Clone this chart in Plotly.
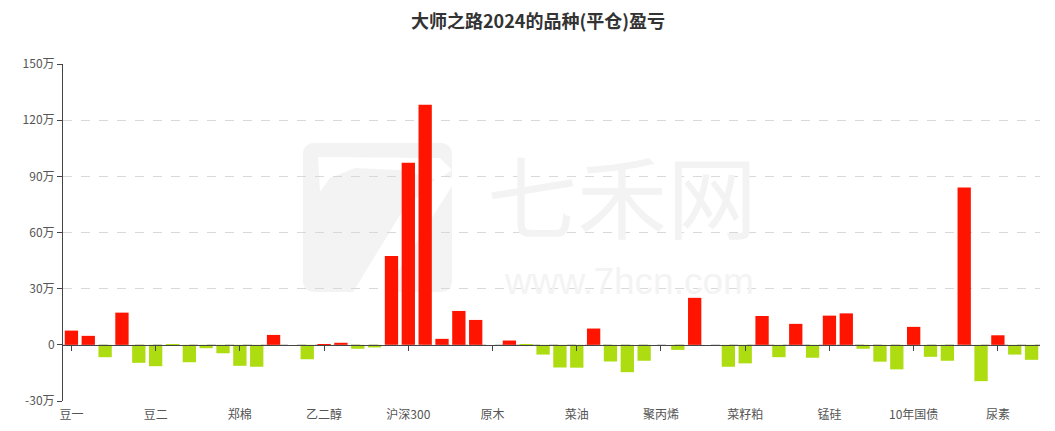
import plotly.graph_objects as go

# Data (values in 万元), 58 categories; only every 5th category label is shown in the reference
tick_labels = ["豆一", "豆二", "郑棉", "乙二醇", "沪深300", "原木", "菜油", "聚丙烯", "菜籽粕", "锰硅", "10年国债", "尿素"]
values_wan = [
    7.6, 4.8, -6.6, 17.2, -9.6, -11.4, -0.3, -9.3, -1.8, -4.5,
    -11.2, -11.7, 5.3, 0.0, -7.7, 0.3, 1.1, -2.1, -1.4, 47.5,
    97.3, 128.2, 3.2, 18.1, 13.3, 0.0, 2.3, -0.3, -5.2, -12.1,
    -12.2, 8.7, -8.9, -14.6, -8.5, 0.0, -2.7, 25.1, 0.0, -11.7,
    -9.9, 15.4, -6.6, 11.2, -6.9, 15.6, 16.8, -2.1, -9.0, -13.1,
    9.6, -6.4, -8.5, 84.0, -19.4, 5.1, -5.2, -8.0,
]
y_ticks_wan = [-30, 0, 30, 60, 90, 120, 150]

values = [v * 10000 for v in values_wan]
idx = list(range(len(values)))
label_idx = list(range(0, len(values), 5))[: len(tick_labels)]
colors = ["#FF1400" if v >= 0 else "#ADDC10" for v in values]

# page body has an 8px margin; figure sized so that the chart sits like the reference
OFF = 8
W, H = 1055 - OFF, 431 - OFF
L, R, T, B = 63 - OFF, 15, 64 - OFF, 30
pw, ph = W - L - R, H - T - B


def px(x, y):
    # window pixel -> paper coords
    return (x - OFF - L) / pw, (H - B - (y - OFF)) / ph


def path(points):
    s = ""
    for cmd, x, y in points:
        a, b = px(x, y)
        s += f"{cmd} {a:.4f},{b:.4f} "
    return s + "Z"


fig = go.Figure()
fig.add_trace(go.Bar(
    x=idx, y=values, marker=dict(color=colors, line=dict(width=0)),
    width=0.79, showlegend=False,
))
# invisible trace to activate overlay axis used for zero-line ticks
fig.add_trace(go.Scatter(x=[idx[0]], y=[0], xaxis="x2", mode="markers",
                         marker=dict(opacity=0), showlegend=False, hoverinfo="skip"))

wm = "#f3f3f3"
shapes = [
    # rounded square of the watermark logo
    dict(type="path", xref="paper", yref="paper", layer="below", line=dict(width=0), fillcolor=wm,
         path=path([("M", 303, 155), ("Q", 303, 143), ("", 315, 143), ("L", 440, 143), ("Q", 452, 143),
                    ("", 452, 155), ("L", 452, 280), ("Q", 452, 292), ("", 440, 292), ("L", 315, 292),
                    ("Q", 303, 292), ("", 303, 280)])),
    # white "7" cut-outs
    dict(type="path", xref="paper", yref="paper", layer="below", line=dict(width=0), fillcolor="white",
         path=path([("M", 318, 157), ("L", 440, 158), ("L", 452, 170), ("L", 438, 180), ("L", 400, 170),
                    ("L", 355, 168), ("L", 330, 178), ("L", 320, 192)])),
    dict(type="path", xref="paper", yref="paper", layer="below", line=dict(width=0), fillcolor="white",
         path=path([("M", 438, 176), ("L", 452, 178), ("L", 452, 186), ("L", 385, 292), ("L", 353, 292),
                    ("L", 400, 215)])),
]

annotations = [
    dict(text="七禾网", x=px(622, 193)[0], y=px(622, 193)[1], xref="paper", yref="paper",
         showarrow=False, font=dict(family="Noto Sans CJK SC", size=90, color=wm)),
    dict(text="www.7hcn.com", x=px(629, 281)[0], y=px(629, 281)[1], xref="paper", yref="paper",
         showarrow=False, font=dict(family="Liberation Sans", size=37, color=wm)),
]

fig.update_layout(
    width=W, height=H,
    margin=dict(l=L, r=R, t=T, b=B, autoexpand=False),
    paper_bgcolor="white", plot_bgcolor="white",
    title=dict(text="<b>大师之路2024的品种(平仓)盈亏</b>", x=(538 - OFF) / W, xanchor="center",
               y=1 - 13.5 / H, yanchor="middle",
               font=dict(family="Noto Sans CJK SC", size=18, color="#333333")),
    font=dict(family="Noto Sans CJK SC", size=12, color="#555555"),
    bargap=0.2,
    shapes=shapes,
    annotations=annotations,
    xaxis=dict(
        range=[-0.5, len(values) - 0.5], tickmode="array", tickvals=label_idx, ticktext=tick_labels,
        showgrid=False, zeroline=False, showline=False, ticks="", automargin=False,
        ticklabelstandoff=5,
        tickfont=dict(size=12, color="#555555"),
    ),
    xaxis2=dict(
        overlaying="x", anchor="free", position=30 / 180, side="bottom",
        range=[-0.5, len(values) - 0.5], tickmode="array", tickvals=label_idx,
        showticklabels=False, showgrid=False, zeroline=False,
        showline=True, linecolor="#444444", linewidth=1,
        ticks="outside", ticklen=5, tickcolor="#444444",
    ),
    yaxis=dict(
        range=[-300000, 1500000], tickmode="array",
        tickvals=[v * 10000 for v in y_ticks_wan],
        ticktext=[(f"{v}万" if v != 0 else "0") for v in y_ticks_wan],
        showgrid=True, gridcolor="#d9d9d9", griddash="dash", gridwidth=1,
        zeroline=False, showline=True, linecolor="#444444", linewidth=1, automargin=False,
        ticks="outside", ticklen=5, tickcolor="#444444",
        tickfont=dict(size=12, color="#555555"),
    ),
)

fig.write_html("out.html")
